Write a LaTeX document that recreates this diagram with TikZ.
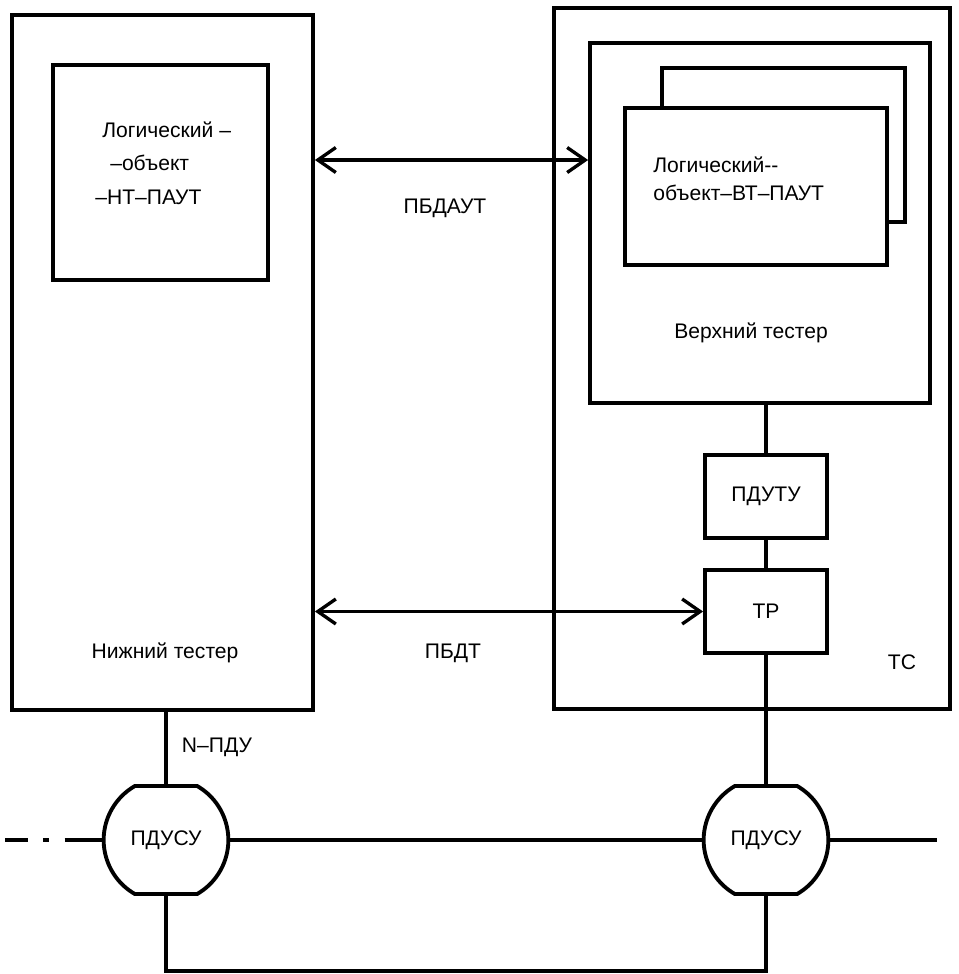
\documentclass[tikz,border=0pt]{standalone}
\usepackage{fontspec}
\setmainfont{Liberation Sans}
\usetikzlibrary{arrows.meta,shapes.misc}
\tikzset{
  box/.style={draw,line width=2.2pt,fill=white,inner sep=0pt},
  lbl/.style={font=\fontsize{12}{19}\selectfont,inner sep=0pt},
  ln/.style={line width=1.9pt},
  dar/.style={{Straight Barb[length=3.6mm,width=5mm]}-{Straight Barb[length=3.6mm,width=5mm]},line width=1.9pt},
  su/.style={draw,line width=2.2pt,fill=white,rounded rectangle,rounded rectangle arc length=120,
    minimum width=2.48cm,minimum height=2.16cm,inner sep=0pt,font=\fontsize{12}{14}\selectfont},
}
\begin{document}
\begin{tikzpicture}[x=0.02cm,y=-0.02cm]
  \useasboundingbox (0,0) rectangle (958,974);
  \node[box,minimum width=6.02cm,minimum height=13.9cm] (nt) at (162.5,362.5) {};
  \node[box,minimum width=4.3cm,minimum height=4.3cm] (lont) at (160.5,172.5) {};
  \node[lbl,align=left,anchor=west] (lonttxt) at (95,163) {\hspace*{4pt}Логический –\\\hspace*{8.5pt}–объект\\–НТ–ПАУТ};
  \node[lbl] (nttxt) at (165,653) {Нижний тестер};
  \node[box,minimum width=7.92cm,minimum height=14.02cm] (tc) at (752,358.5) {};
  \node[box,minimum width=6.8cm,minimum height=7.2cm] (vt) at (760,223) {};
  \node[box,minimum width=4.86cm,minimum height=3.08cm] (lovtb) at (783.5,145) {};
  \node[box,minimum width=5.24cm,minimum height=3.14cm] (lovt) at (756,186.5) {};
  \node[lbl,align=left,anchor=west,font=\fontsize{12}{16}\selectfont] (lovttxt) at (653,179) {Логический-{}-\\объект–ВТ–ПАУТ};
  \node[lbl] (vttxt) at (751,333) {Верхний тестер};
  \node[box,minimum width=2.44cm,minimum height=1.66cm,font=\fontsize{12}{14}\selectfont] (pduty) at (766,496.5) {ПДУТУ};
  \node[box,minimum width=2.44cm,minimum height=1.66cm,font=\fontsize{12}{14}\selectfont] (tp) at (766,611.5) {TP};
  \node[lbl] (tctxt) at (902,662) {TC};
  \node[su] (su1) at (166,840) {ПДУСУ};
  \node[su] (su2) at (766,840) {ПДУСУ};
  \coordinate (ya) at (0,160);
  \coordinate (lin) at (5,840);
  \coordinate (lmid) at (65,840);
  \coordinate (rout) at (937,840);
  \draw[dar] (nt.east |- ya) -- (vt.west |- ya);
  \node[lbl] (pbdaut) at (445,208) {ПБДАУТ};
  \draw[dar] (nt.east |- tp.west) -- (tp.west);
  \node[lbl] (pbdt) at (453,653) {ПБДТ};
  \draw[ln] (vt.south -| pduty.north) -- (pduty.north);
  \draw[ln] (pduty.south) -- (tp.north);
  \draw[ln] (tp.south) -- (su2.north);
  \draw[ln] (su1.north |- nt.south) -- (su1.north);
  \node[lbl] (npdu) at (217,747) {N–ПДУ};
  \draw[ln,dash pattern=on 13pt off 8.5pt on 3.4pt off 9pt] (lin) -- (lmid);
  \draw[ln] (lmid) -- (su1.west);
  \draw[ln] (su1.east) -- (su2.west);
  \draw[ln] (su2.east) -- (rout);
  \draw[ln] (su1.south) -- ++(0,75) -| (su2.south);
\end{tikzpicture}
\end{document}
